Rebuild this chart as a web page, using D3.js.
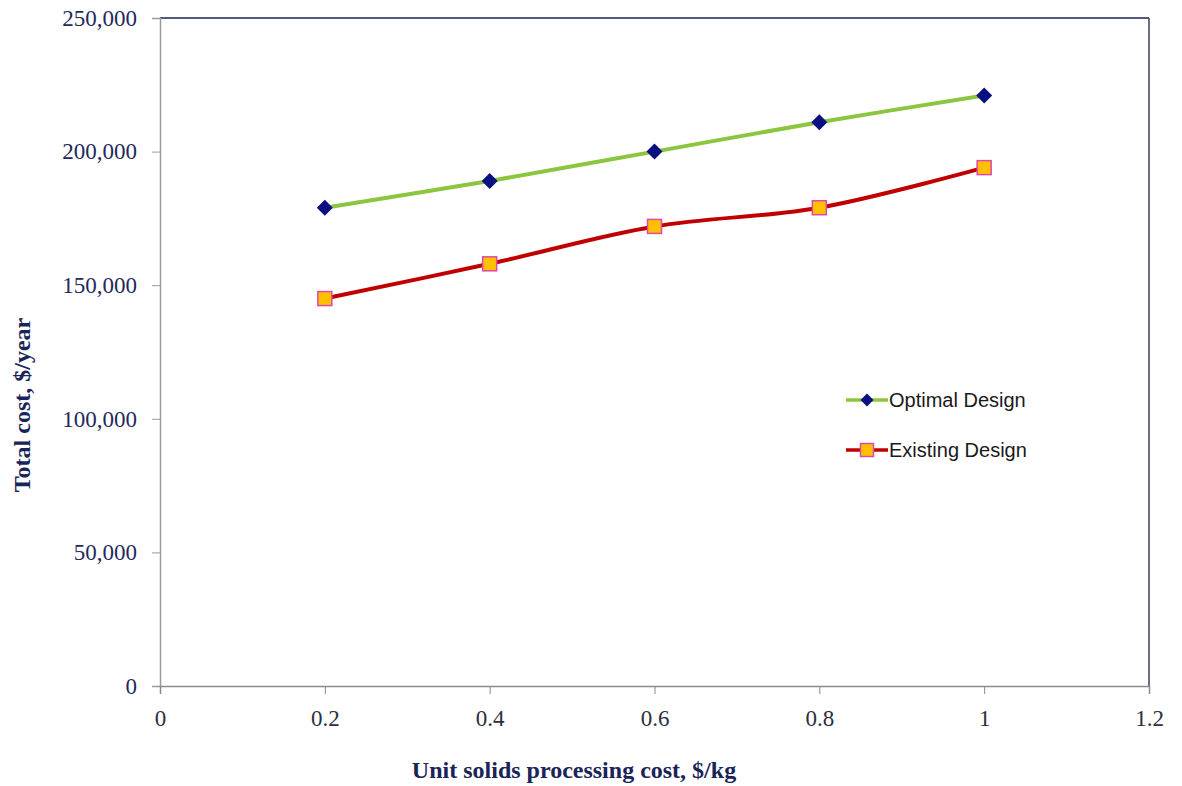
<!DOCTYPE html>
<html><head><meta charset="utf-8">
<script src="https://cdn.jsdelivr.net/npm/d3@7"></script>
<style>body{margin:0;background:#fff}svg{display:block}</style>
</head><body>
<svg id="c" width="1182" height="786"></svg>
<script>
const xValues = [0.2, 0.4, 0.6, 0.8, 1.0];
const optimalDesign = [179000, 189000, 200000, 211000, 221000];
const existingDesign = [145000, 158000, 172000, 179000, 194000];
const seriesNames = ["Optimal Design", "Existing Design"];
const xTicks = [0, 0.2, 0.4, 0.6, 0.8, 1, 1.2];
const yTicks = [0, 50000, 100000, 150000, 200000, 250000];
const xTitle = "Unit solids processing cost, $/kg";
const yTitle = "Total cost, $/year";

const svg = d3.select("#c");
const L = 160, R = 1149, T = 18, B = 686;
const x = d3.scaleLinear().domain([0, 1.2]).range([L, R]);
const y = d3.scaleLinear().domain([0, 250000]).range([B, T]);
const serif = "'Liberation Serif','Times New Roman',serif";

// frame: top and right dark
svg.append("line").attr("x1", L).attr("x2", R).attr("y1", T).attr("y2", T).attr("stroke", "#1a2350").attr("stroke-width", 1.5);
svg.append("line").attr("x1", R).attr("x2", R).attr("y1", T).attr("y2", B).attr("stroke", "#3a3f5a").attr("stroke-width", 1.5);

const fmt = d3.format(",");
const yAxis = svg.append("g").attr("transform", `translate(${L},0)`)
  .call(d3.axisLeft(y).tickValues(yTicks).tickFormat(d => fmt(d)).tickSize(8).tickPadding(15));
yAxis.select(".domain").attr("stroke", "#9a9a9a").attr("stroke-width", 1.5);
yAxis.selectAll(".tick line").attr("stroke", "#9a9a9a");
yAxis.selectAll("text").attr("font-family", serif).attr("font-size", 23).attr("fill", "#1f2a5c");

const xAxis = svg.append("g").attr("transform", `translate(0,${B})`)
  .call(d3.axisBottom(x).tickValues(xTicks).tickFormat(d => String(d)).tickSize(8).tickPadding(16));
xAxis.select(".domain").attr("stroke", "#8a8a8a").attr("stroke-width", 1.5);
xAxis.selectAll(".tick line").attr("stroke", "#8a8a8a");
xAxis.selectAll("text").attr("font-family", serif).attr("font-size", 23).attr("fill", "#2a3040");

svg.append("text").attr("x", 574).attr("y", 778).attr("text-anchor", "middle")
  .attr("font-family", serif).attr("font-weight", "bold")
  .attr("font-size", 24).attr("fill", "#1a2458").text(xTitle);
svg.append("text").attr("transform", "translate(30,405) rotate(-90)").attr("text-anchor", "middle")
  .attr("font-family", serif).attr("font-weight", "bold")
  .attr("font-size", 24).attr("fill", "#1a2458").text(yTitle);

const line = d3.line().x(d => x(d[0])).y(d => y(d[1])).curve(d3.curveCatmullRom.alpha(0.5));
const optData = xValues.map((v, i) => [v, optimalDesign[i]]);
const exData = xValues.map((v, i) => [v, existingDesign[i]]);

svg.append("path").attr("d", line(optData)).attr("fill", "none").attr("stroke", "#8cc640").attr("stroke-width", 4);
svg.append("path").attr("d", line(exData)).attr("fill", "none").attr("stroke", "#c00000").attr("stroke-width", 4);

const diamond = s => `M0,${-s}L${s},0L0,${s}L${-s},0Z`;
svg.selectAll(".dm").data(optData).enter().append("path")
  .attr("d", diamond(8)).attr("transform", d => `translate(${x(d[0])},${y(d[1])})`).attr("fill", "#0a1080");
svg.selectAll(".sq").data(exData).enter().append("rect")
  .attr("x", d => x(d[0]) - 7).attr("y", d => y(d[1]) - 7).attr("width", 14).attr("height", 14)
  .attr("fill", "#ffc000").attr("stroke", "#e048a8").attr("stroke-width", 1.5);

// legend
const lg = svg.append("g");
[[400, "#8cc640", 0], [450, "#c00000", 1]].forEach(([ly, col, i]) => {
  lg.append("line").attr("x1", 846).attr("x2", 888).attr("y1", ly).attr("y2", ly).attr("stroke", col).attr("stroke-width", 3.5);
  if (i === 0) lg.append("path").attr("d", diamond(6.5)).attr("transform", `translate(867,${ly})`).attr("fill", "#0a1080");
  else lg.append("rect").attr("x", 860.5).attr("y", ly - 6.5).attr("width", 13).attr("height", 13).attr("fill", "#ffc000").attr("stroke", "#e048a8").attr("stroke-width", 1.5);
  lg.append("text").attr("x", 889).attr("y", ly + 7).attr("font-family", "'Liberation Sans',Arial,sans-serif")
    .attr("font-size", 20).attr("fill", "#1a1a1a").text(seriesNames[i]);
});
</script>
</body></html>
